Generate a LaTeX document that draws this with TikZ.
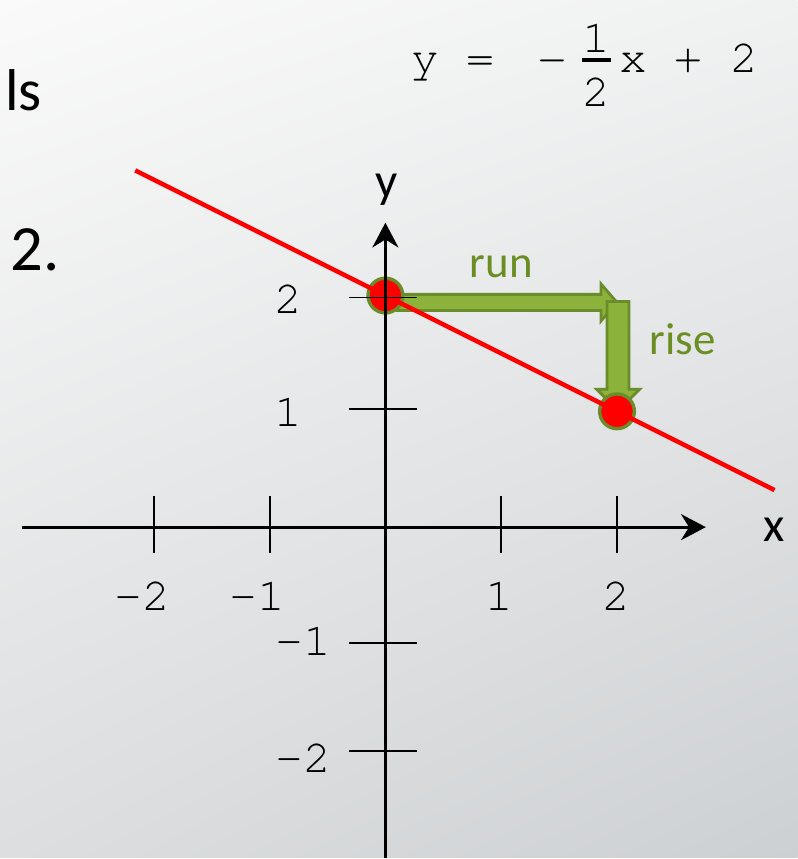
\documentclass[tikz,border=0pt]{standalone}
\usepackage{fontspec}
\setmainfont{Carlito}
\newfontfamily\monofont{texgyrecursor-regular.otf}
\usetikzlibrary{calc, arrows.meta, shadings}
\definecolor{Leaf}{HTML}{8BB23A}
\definecolor{LeafEdge}{HTML}{6A8C2A}
\definecolor{LeafText}{HTML}{6B8E23}
\definecolor{BgTL}{HTML}{FAFAFA}
\definecolor{BgTR}{HTML}{F0F1F1}
\definecolor{BgBL}{HTML}{DCDEDF}
\definecolor{BgBR}{HTML}{CDD0D3}

\begin{document}
\begin{tikzpicture}[x=2.9cm, y=2.9cm,
    axis/.style={line width=2.1pt, -{Stealth[length=0.62cm, width=0.65cm, inset=0.2cm]}},
    axistick/.style={line width=1.4pt},
    ticklabel/.style={font=\monofont\fontsize{33}{40}\selectfont, anchor=base, inner sep=0pt},
    axislabel/.style={font=\fontsize{35}{42}\selectfont, anchor=base, inner sep=0pt},
    slidetext/.style={font=\fontsize{42}{50}\selectfont, anchor=base west, inner sep=0pt},
    steplabel/.style={font=\fontsize{32}{38}\selectfont, text=LeafText, anchor=base, inner sep=0pt},
    blockarrow/.style={fill=Leaf, draw=LeafEdge, line width=2pt, line join=miter},
    pointdot/.style={circle, fill=red, draw=LeafEdge, line width=2.4pt, minimum size=0.87cm, inner sep=0pt}]

    % background
    \shade[upper left=BgTL, upper right=BgTR, lower left=BgBL, lower right=BgBR]
        (-3.328,-2.853) rectangle (3.560,4.552);

    % slide text cut at the edge
    \node[slidetext] (cutword) at (-3.284,3.595) {ls};
    \node[slidetext, font=\fontsize{46}{54}\selectfont] (itemnum) at (-3.241,2.216) {2.};

    % equation
    \node[ticklabel] (eqlhs) at (0.582,3.922) {y =};
    \node[ticklabel] (eqminus) at (1.440,3.922) {−};
    \node[ticklabel] (eqnum) at (1.819,4.095) {1};
    \node[ticklabel] (eqden) at (1.819,3.629) {2};
    \draw[line width=3.4pt] (1.698,4.034) -- (1.948,4.034);
    \node[ticklabel] (eqrhs) at (2.621,3.922) {x + 2};

    % run and rise
    \draw[blockarrow] (0.1,1.87) -- (1.862,1.87) -- (1.862,1.78) -- (2.0,1.94)
        -- (1.862,2.10) -- (1.862,2.01) -- (0.1,2.01) -- cycle;
    \draw[blockarrow] (1.914,1.948) -- (2.103,1.948) -- (2.103,1.19) -- (2.194,1.19)
        -- (2.009,1.005) -- (1.824,1.19) -- (1.914,1.19) -- cycle;
    \node[steplabel] (runlabel) at (1.0,2.155) {run};
    \node[steplabel] (riselabel) at (2.565,1.491) {rise};

    % points and line
    \node[pointdot] (p0) at (0,2) {};
    \node[pointdot] (p1) at (2,1) {};
    \draw[red, line width=3.2pt] ($(p0.center)!-1.08!(p1.center)$) -- ($(p0.center)!1.68!(p1.center)$);

    % axes
    \draw[axis] (-3.138,0) -- (2.767,0);
    \draw[axis] (0,-2.853) -- (0,2.629);
    \node[axislabel] (xlabel) at (3.353,-0.121) {x};
    \node[axislabel] (ylabel) at (0.01,2.845) {y};

    \foreach \tx/\lx in {-2/-2.095, -1/-1.103, 1/0.983, 2/1.991} {
        \draw[axistick] (\tx,-0.22) -- (\tx,0.27);
        \node[ticklabel] (xt\tx) at (\lx,-0.716) {\tx};
    }
    \foreach \ty/\py/\lx/\ly in {2/1.983/-0.836/1.845, 1/1.017/-0.836/0.871,
                                 -1/-1.0/-0.707/-1.112, -2/-1.931/-0.707/-2.121} {
        \draw[axistick] (-0.31,\py) -- (0.276,\py);
        \node[ticklabel] (yt\ty) at (\lx,\ly) {\ty};
    }
\end{tikzpicture}
\end{document}
